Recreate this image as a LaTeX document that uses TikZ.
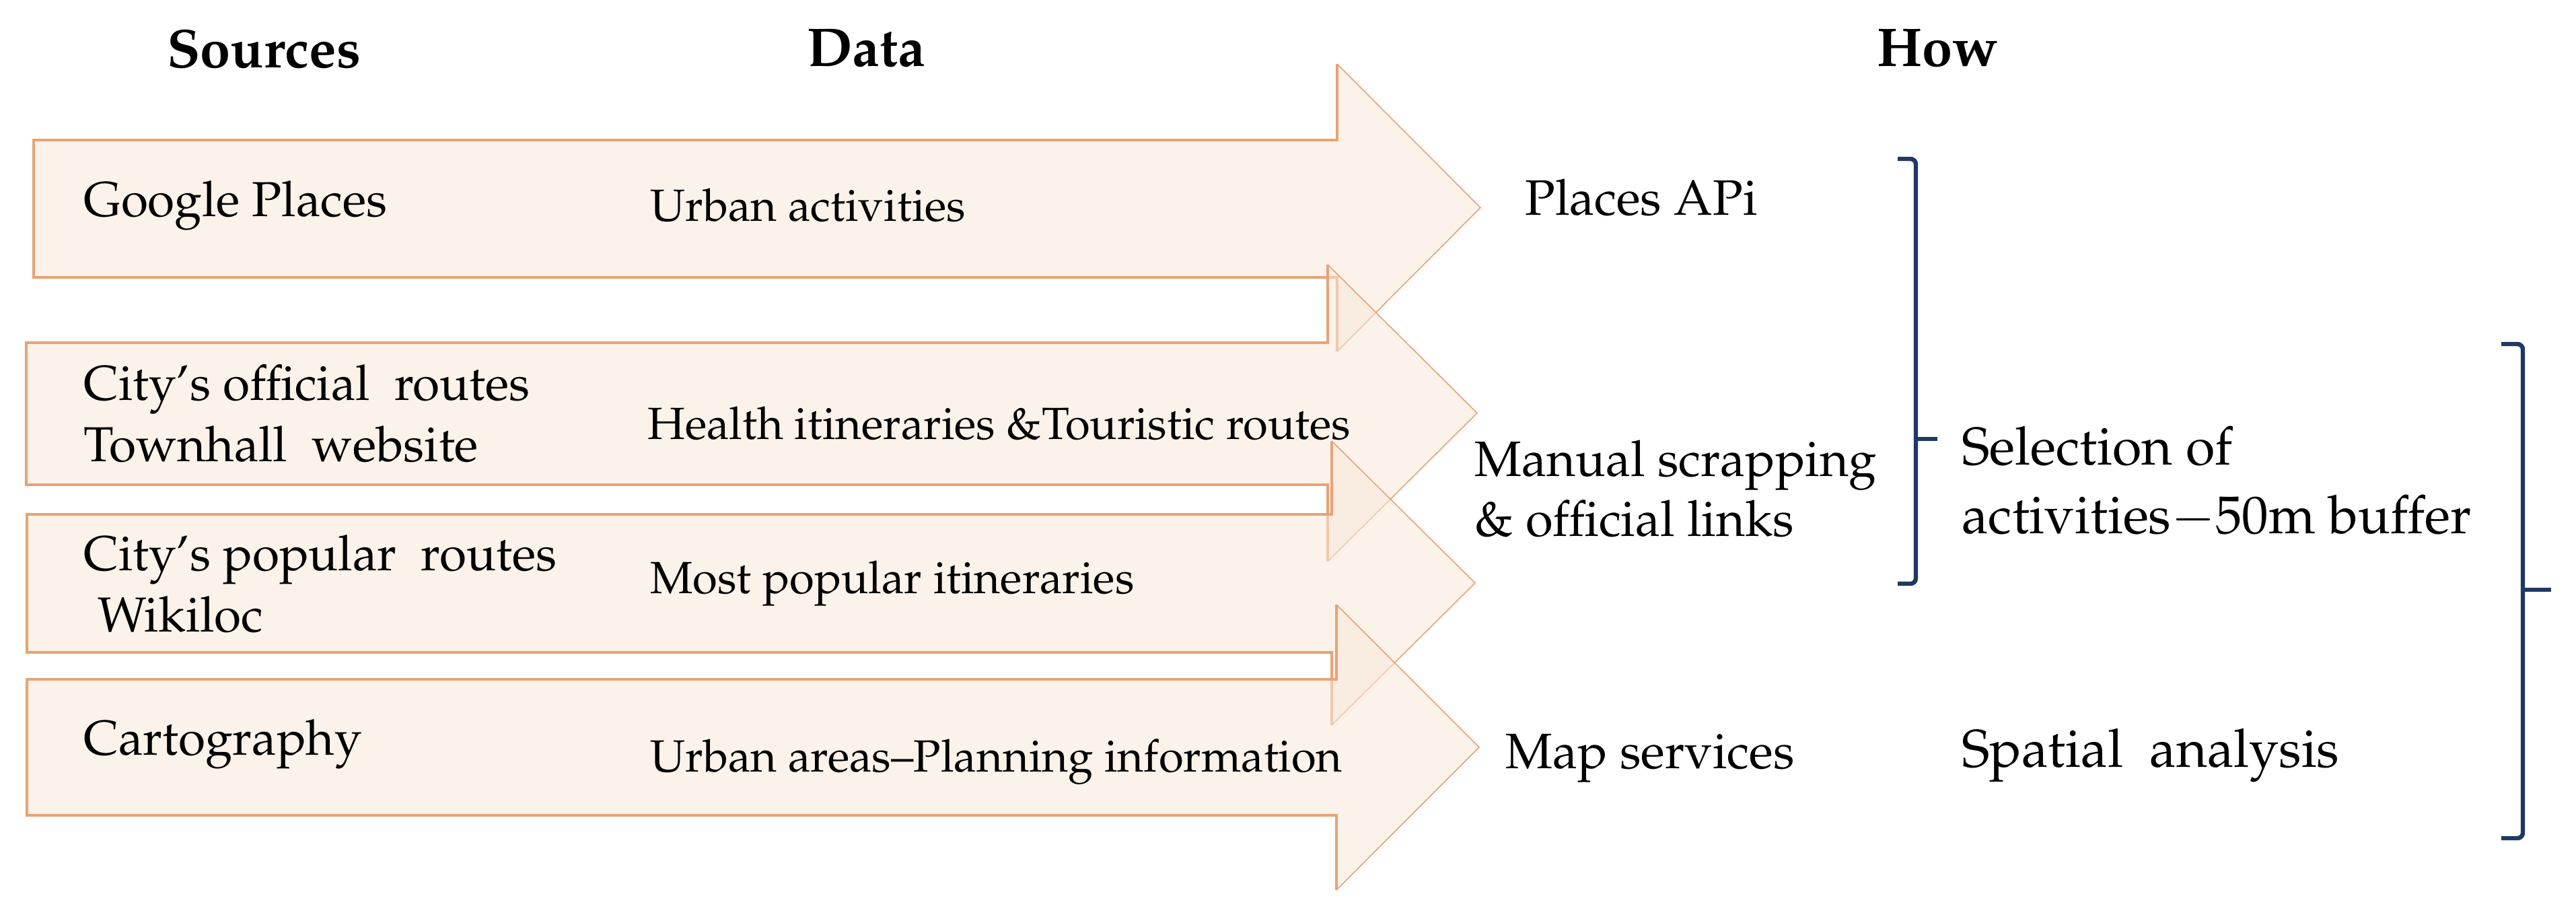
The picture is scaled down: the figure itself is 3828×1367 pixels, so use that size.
\documentclass[tikz,border=0pt]{standalone}
\usepackage[T1]{fontenc}
\usepackage{mathpazo}
\definecolor{arrfill}{RGB}{249,232,218}
\definecolor{arredge}{RGB}{232,163,118}
\definecolor{brknavy}{RGB}{31,56,100}
\newcommand{\blkarrow}[7]{%
  \fill[arrowbody] (#1,#2) -- (#4,#2) -- (#4,#5) -- (#7,{(#5+#6)/2}) -- (#4,#6) -- (#4,#3) -- (#1,#3) -- cycle;
  \draw[shaftline] (#4,#5) -- (#4,#2) -- (#1,#2) -- (#1,#3) -- (#4,#3) -- (#4,#6);
  \draw[headline] (#4,#5) -- (#7,{(#5+#6)/2}) -- (#4,#6);
}
\tikzset{
  arrowbody/.style={fill=arrfill, fill opacity=0.55},
  shaftline/.style={draw=arredge, line width=1.8pt, line join=miter},
  headline/.style={draw=arredge, line width=0.8pt, line join=miter},
  brk/.style={draw=brknavy, line width=3.2pt, rounded corners=4pt},
  brktick/.style={draw=brknavy, line width=3.2pt},
  txt/.style={inner sep=0pt, anchor=base west},
  headtxt/.style={inner sep=0pt, anchor=base, font=\fontsize{40.5}{48}\selectfont\bfseries},
  srctxt/.style={txt, font=\fontsize{36.5}{44}\selectfont},
  dattxt/.style={txt, font=\fontsize{33.5}{40}\selectfont},
  howtxt/.style={txt, font=\fontsize{37}{44}\selectfont},
  restxt/.style={txt, font=\fontsize{39.5}{47}\selectfont}
}
\begin{document}
\begin{tikzpicture}[x=0.5pt,y=-0.5pt]
\useasboundingbox (0,0) rectangle (3828,1367);
\fill[white] (0,0) rectangle (3828,1367);

% block arrows: left, shaft top, shaft bottom, shaft end, head top, head bottom, tip x
\blkarrow{50}{208}{412}{1987}{95}{522}{2200}
\blkarrow{39}{509}{720}{1973}{393}{834}{2195}
\blkarrow{40}{764}{969}{1979}{655}{1077}{2192}
\blkarrow{40}{1009}{1211}{1986}{898}{1322}{2198}

% headings
\node[headtxt] (hsrc) at (392,100) {Sources};
\node[headtxt] (hdat) at (1287,98) {Data};
\node[headtxt] (hhow) at (2879,98) {How};

% sources
\node[srctxt] (s1) at (124,321) {Google Places};
\node[srctxt] (s2a) at (124,594) {City's official\ \ routes};
\node[srctxt] (s2b) at (124,685) {Townhall\ \ website};
\node[srctxt] (s3a) at (124,847) {City's popular\ \ routes};
\node[srctxt] (s3b) at (145,938) {Wikiloc};
\node[srctxt] (s4) at (124,1121) {Cartography};

% data
\node[dattxt] (d1) at (966,328) {Urban activities};
\node[dattxt] (d2) at (962,652) {Health itineraries \&Touristic routes};
\node[dattxt] (d3) at (966,881) {Most popular itineraries};
\node[dattxt] (d4) at (966,1146) {Urban areas--Planning information};

% how
\node[howtxt] (w1) at (2266,319) {Places APi};
\node[howtxt] (w2a) at (2191,707) {Manual scrapping};
\node[howtxt] (w2b) at (2191,796) {\& official links};
\node[howtxt] (w3) at (2237,1141) {Map services};

% results
\node[restxt] (r1a) at (2915,690) {Selection of};
\node[restxt] (r1b) at (2915,792) {activities$-$50m buffer};
\node[restxt] (r2) at (2915,1139) {Spatial\ \ analysis};

% brackets
\coordinate (b1t) at (2820,236);
\coordinate (b1b) at (2820,867);
\coordinate (b1m) at (2847,652);
\draw[brk] (b1t) -- (2847,236) -- (2847,867) -- (b1b);
\draw[brktick] (b1m) -- ++(32,0);
\coordinate (b2t) at (3717,511);
\coordinate (b2b) at (3717,1245);
\coordinate (b2m) at (3749,876);
\draw[brk] (b2t) -- (3749,511) -- (3749,1245) -- (b2b);
\draw[brktick] (b2m) -- ++(42,0);
\end{tikzpicture}
\end{document}
